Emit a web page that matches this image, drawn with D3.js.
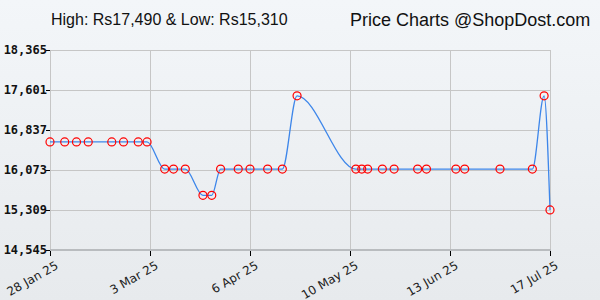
<!DOCTYPE html>
<meta charset="utf-8">
<title>Price Chart</title>
<style>
  body { margin:0; padding:0; }
  svg { display:block; }
  .title { font-family: 'Liberation Sans', Arial, sans-serif; fill: #111; }
  .ylab { font-family: 'DejaVu Sans Mono', monospace; font-weight: bold; font-size: 12px; fill: #111; }
  .xlab { font-family: 'DejaVu Sans', sans-serif; font-size: 12px; fill: #222; }
</style>
<body>
<div id="chart"></div>
<script src="https://cdn.jsdelivr.net/npm/d3@7"></script>
<script>

var dates = ["2025-01-28","2025-02-02","2025-02-06","2025-02-10","2025-02-18","2025-02-22","2025-02-27","2025-03-02",
             "2025-03-08","2025-03-11","2025-03-15","2025-03-21","2025-03-24","2025-03-27","2025-04-02","2025-04-06",
             "2025-04-12","2025-04-17","2025-04-22","2025-05-12","2025-05-14","2025-05-16","2025-05-21","2025-05-25",
             "2025-06-02","2025-06-05","2025-06-15","2025-06-18","2025-06-30","2025-07-11","2025-07-15","2025-07-17"];
var prices = [16610,16610,16610,16610,16610,16610,16610,16610,
              16090,16090,16090,15590,15590,16090,16090,16090,
              16090,16090,17490,16090,16090,16090,16090,16090,
              16090,16090,16090,16090,16090,16090,17490,15310];
var yTicks = [14545,15309,16073,16837,17601,18365];
var xTicks = ["2025-01-28","2025-03-03","2025-04-06","2025-05-10","2025-06-13","2025-07-17"];

var W = 600, H = 300;
var parse = d3.timeParse("%Y-%m-%d"),
    fmt = d3.timeFormat("%-d %b %y");

var data = dates.map(function(d,i){ return {date: parse(d), price: prices[i]}; });

var x = d3.scaleTime().domain([parse(xTicks[0]), parse(xTicks[xTicks.length-1])]).range([50,550]);
var y = d3.scaleLinear().domain([yTicks[0], yTicks[yTicks.length-1]]).range([250,50]);

var svg = d3.select("#chart").append("svg").attr("width", W).attr("height", H);

var grad = svg.append("defs").append("linearGradient").attr("id","bg")
  .attr("x1",0).attr("y1",0).attr("x2",0).attr("y2",1);
grad.append("stop").attr("offset","0%").attr("stop-color","#f3f6f9");
grad.append("stop").attr("offset","100%").attr("stop-color","#e7eaed");
svg.append("rect").attr("width",W).attr("height",H).attr("fill","url(#bg)");

// titles
svg.append("text").attr("class","title").attr("x",51).attr("y",25).style("font-size","16px")
  .text("High: Rs17,490 & Low: Rs15,310");
svg.append("text").attr("class","title").attr("x",350).attr("y",26).style("font-size","18px")
  .text("Price Charts @ShopDost.com");

// grid
svg.selectAll(".hg").data(yTicks).enter().append("line")
  .attr("x1",50).attr("x2",550)
  .attr("y1",function(d){ return Math.round(y(d))+0.5; })
  .attr("y2",function(d){ return Math.round(y(d))+0.5; })
  .attr("stroke","#c6c6c6");
svg.selectAll(".vg").data(xTicks).enter().append("line")
  .attr("x1",function(d){ return Math.round(x(parse(d)))+0.5; })
  .attr("x2",function(d){ return Math.round(x(parse(d)))+0.5; })
  .attr("y1",50).attr("y2",250)
  .attr("stroke","#c6c6c6");

// bottom axis line (double)
svg.append("rect").attr("x",50).attr("y",249).attr("width",501).attr("height",2).attr("fill","#b9bcbf");

// y axis ticks + labels
svg.selectAll(".yt").data(yTicks).enter().append("line")
  .attr("x1",46).attr("x2",50)
  .attr("y1",function(d){ return Math.round(y(d))+0.5; })
  .attr("y2",function(d){ return Math.round(y(d))+0.5; })
  .attr("stroke","#000");
svg.selectAll(".ylab").data(yTicks).enter().append("text")
  .attr("class","ylab").attr("x",47).attr("y",function(d){ return y(d)+4; })
  .attr("text-anchor","end")
  .text(function(d){ return d3.format(",")(d); });

// x axis ticks + labels
svg.selectAll(".xt").data(xTicks).enter().append("line")
  .attr("x1",function(d){ return Math.round(x(parse(d)))+0.5; })
  .attr("x2",function(d){ return Math.round(x(parse(d)))+0.5; })
  .attr("y1",251).attr("y2",256)
  .attr("stroke","#000");
svg.selectAll(".xlab").data(xTicks).enter().append("text")
  .attr("class","xlab").attr("text-anchor","end")
  .attr("transform",function(d){ return "translate(" + (x(parse(d))+9) + ",268) rotate(-30)"; })
  .text(function(d){ return fmt(parse(d)); });

// price line
var line = d3.line().curve(d3.curveMonotoneX)
  .x(function(d){ return x(d.date); })
  .y(function(d){ return y(d.price); });
svg.append("path").datum(data).attr("d",line)
  .attr("fill","none").attr("stroke","#3d86ea").attr("stroke-width",1.3);

// markers
svg.selectAll(".pt").data(data).enter().append("circle")
  .attr("cx",function(d){ return x(d.date); })
  .attr("cy",function(d){ return y(d.price); })
  .attr("r",4)
  .attr("fill","none").attr("stroke","#f00").attr("stroke-width",1.2);

</script>
</body>
</html>
